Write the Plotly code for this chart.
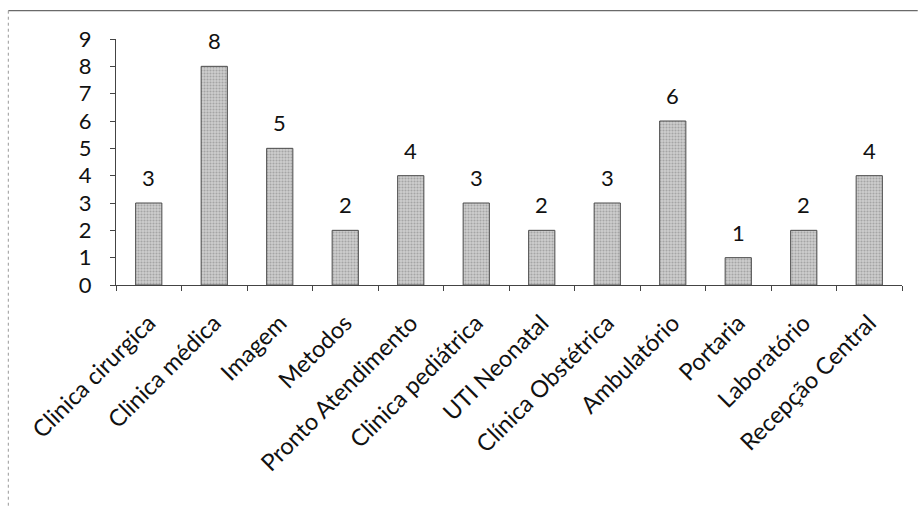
import plotly.graph_objects as go

setores = ["Clinica cirurgica", "Clinica médica", "Imagem", "Metodos",
           "Pronto Atendimento", "Clinica pediátrica", "UTI Neonatal",
           "Clínica Obstétrica", "Ambulatório", "Portaria", "Laboratório",
           "Recepção Central"]
quantidade = [3, 8, 5, 2, 4, 3, 2, 3, 6, 1, 2, 4]
y_ticks = list(range(0, 10))

FONT = "Lato, 'Open Sans', sans-serif"

fig = go.Figure()
fig.add_trace(go.Bar(
    x=setores,
    y=quantidade,
    marker=dict(
        color="#c0c0c0",
        line=dict(color="#4a4a4a", width=1),
        pattern=dict(shape=".", fgcolor="#7e7e7e", bgcolor="#cdcdcd",
                     size=3, solidity=0.4),
    ),
    showlegend=False,
    hoverinfo="skip",
))

# value labels above each bar
for s, v in zip(setores, quantidade):
    fig.add_annotation(x=s, y=v, text=str(v), showarrow=False,
                       yanchor="bottom", yshift=10,
                       font=dict(family=FONT, size=22, color="#111"))

# thin frame around the chart area
fig.add_shape(type="line", xref="paper", yref="paper",
              x0=-0.137, x1=1.02, y0=1.115, y1=1.115,
              line=dict(color="#444", width=1))
fig.add_shape(type="line", xref="paper", yref="paper",
              x0=-0.137, x1=-0.137, y0=1.115, y1=-0.95,
              line=dict(color="#999", width=1, dash="dot"))

fig.update_layout(
    width=918, height=507,
    margin=dict(l=116, r=16, t=39, b=222),
    paper_bgcolor="white", plot_bgcolor="white",
    bargap=0.6,
    font=dict(family=FONT, color="#111"),
    xaxis=dict(
        tickangle=-45,
        tickfont=dict(size=23.5, family=FONT),
        ticklabelstandoff=14,
        showline=True, linecolor="#444", linewidth=1,
        ticks="outside", ticklen=5, tickcolor="#444",
        tickson="boundaries",
        showgrid=False,
    ),
    yaxis=dict(
        range=[0, 9],
        tickvals=y_ticks,
        tickfont=dict(size=22, family=FONT),
        ticklabelstandoff=14,
        showline=True, linecolor="#444", linewidth=1,
        ticks="outside", ticklen=5, tickcolor="#444",
        showgrid=False, zeroline=False,
    ),
)

fig.write_html("out.html")
